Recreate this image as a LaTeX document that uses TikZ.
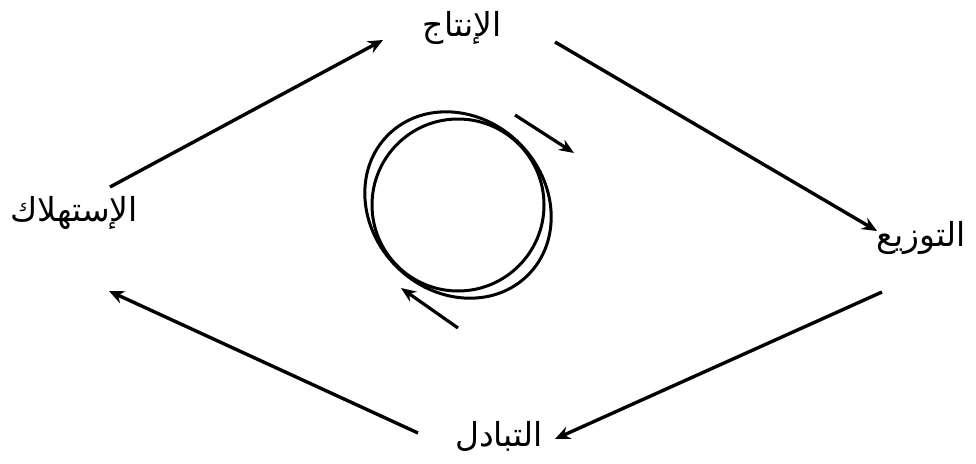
\documentclass[tikz,border=0pt]{standalone}
\usepackage{fontspec}
\newfontfamily\arabicfont[Script=Arabic]{DejaVu Sans}
\TeXXeTstate=1
\usetikzlibrary{arrows.meta}
\tikzset{
  flow/.style={line width=3.4pt,-{Stealth[length=15pt,width=13pt]}},
  turn/.style={line width=3.2pt,-{Stealth[length=15pt,width=12pt]}},
  stage/.style={font=\arabicfont\fontsize{33}{38}\selectfont,inner sep=0pt}
}

\begin{document}
\begin{tikzpicture}[x=1pt,y=-1pt]
  \useasboundingbox (0,0) rectangle (976,463);

  % the four stages
  \node[stage] (prod) at (462,28)  {\beginR الإنتاج\endR};
  \node[stage] (dist) at (921,238) {\beginR التوزيع\endR};
  \node[stage] (exch) at (499,436) {\beginR التبادل\endR};
  \node[stage] (cons) at (74,213)  {\beginR الإستهلاك\endR};

  % arrow ends
  \coordinate (p1) at (110,187); \coordinate (p2) at (383,40);
  \coordinate (q1) at (555,42);  \coordinate (q2) at (877,231);
  \coordinate (r1) at (882,292); \coordinate (r2) at (555,439);
  \coordinate (s1) at (418,433); \coordinate (s2) at (109,291);

  \draw[flow] (p1) -- (p2);
  \draw[flow] (q1) -- (q2);
  \draw[flow] (r1) -- (r2);
  \draw[flow] (s1) -- (s2);

  % the cycle in the middle
  \draw[line width=3pt] (458,205) circle[radius=86];
  \draw[line width=3pt,rotate around={-45:(458,205)}] (458,205) ellipse[x radius=99,y radius=87];

  \coordinate (t1) at (515,115); \coordinate (t2) at (574,153);
  \coordinate (u1) at (458,328); \coordinate (u2) at (401,288);
  \draw[turn] (t1) -- (t2);
  \draw[turn] (u1) -- (u2);
\end{tikzpicture}
\end{document}
